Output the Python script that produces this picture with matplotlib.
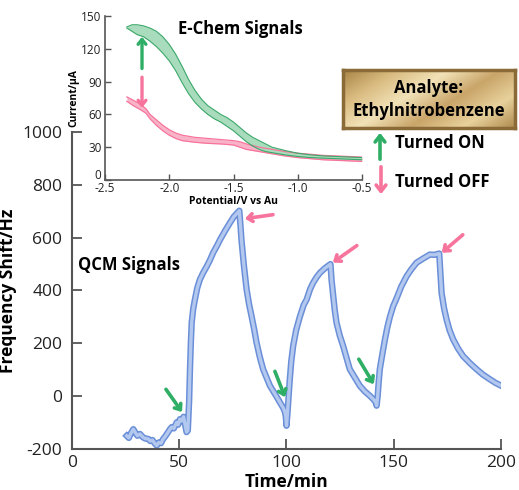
import numpy as np
import matplotlib
matplotlib.use("Agg")
import matplotlib.pyplot as plt
import matplotlib.patheffects as pe
import matplotlib.transforms as mtransforms
from matplotlib.colors import LinearSegmentedColormap
from matplotlib.patches import FancyArrowPatch

plt.rcParams['font.family'] = ['Open Sans', 'DejaVu Sans']

# QCM signal (time in min, frequency shift in Hz)
qcm_t = [25.5, 26.5, 27.5, 28.6, 29.5, 30.5, 31.7, 33.0, 34.0, 35.6, 36.5, 37.5,
         38.5, 39.5, 40.5, 41.5, 42.5, 43.5, 44.5, 45.7, 46.5, 47.5, 48.8, 49.5,
         50.3, 51.1, 52.0, 52.8, 53.4, 54.0,
         54.6, 55.0, 55.4, 55.8, 56.5, 57.3, 58.4, 59.6, 61.0, 62.8, 64.3, 65.8,
         67.5, 69.0, 71.3, 73.6, 75.5, 77.0, 78.0,
         78.6, 79.0, 80.2, 81.4, 82.5, 83.7, 85.0, 86.0, 87.5, 89.1, 90.7, 92.3,
         94.5, 96.9, 98.5, 99.3, 99.7, 100.0,
         100.5, 100.8, 101.5, 102.2, 103.1, 104.5, 106.2, 108.0, 109.4, 111.0,
         112.4, 114.0, 115.6, 118.0, 120.5,
         121.0, 121.8, 122.5, 123.3, 124.8, 126.4, 128.0, 129.5, 131.5, 134.2,
         136.5, 138.9, 140.5, 141.7, 142.0,
         142.5, 143.0, 143.5, 144.7, 145.9, 147.0, 148.2, 149.7, 151.3, 153.5,
         156.0, 158.0, 160.6, 163.5, 166.8, 169.0, 171.2,
         171.7, 172.3, 173.4, 174.6, 176.0, 177.7, 180.0, 182.3, 185.5, 188.6,
         191.5, 194.8, 197.5, 200.2]
qcm_f = [-150, -158, -140, -125, -138, -150, -143, -155, -160, -162, -170, -166,
         -178, -187, -175, -178, -162, -152, -140, -125, -117, -122, -99, -108,
         -87, -94, -78, -110, -136, -130,
         -20, 100, 200, 279, 330, 366, 410, 441, 465, 491, 515, 543,
         568, 592, 625, 656, 680, 693, 702,
         640, 592, 490, 404, 350, 303, 250, 204, 150, 102, 70, 39,
         10, -23, -45, -60, -80, -112,
         -60, -23, 60, 130, 190, 250, 300, 345, 366, 405,
         429, 450, 467, 485, 500,
         440, 378, 325, 279, 230, 190, 145, 102, 75, 39,
         18, 1, -12, -24, -36,
         0, 55, 102, 160, 215, 260, 300, 340, 370, 415,
         454, 478, 505, 520, 536, 535, 540,
         470, 391, 335, 291, 250, 215, 180, 152, 125, 102,
         82, 64, 50, 39]

# E-Chem signals (potential in V vs Au, current in uA)
on_v = [-2.33, -2.29, -2.25, -2.2, -2.15, -2.1, -2.05, -2.0, -1.95, -1.9, -1.85,
        -1.8, -1.75, -1.7, -1.65, -1.6, -1.55, -1.5, -1.45, -1.4, -1.35, -1.3,
        -1.25, -1.2, -1.1, -1.0, -0.9, -0.8, -0.7, -0.6, -0.5]
on_hi = [140, 142, 142, 141, 139, 136, 131, 124, 115, 104, 92, 82, 74, 68, 64,
         60, 57, 53, 48, 43, 39, 36, 33, 30, 27, 24.5, 23, 22, 21.5, 21, 20.5]
on_lo = [139, 136, 133, 131, 127, 122, 116, 109, 100, 89, 79, 71, 65, 60, 56,
         53, 49, 45, 40, 35, 31, 28, 26, 25, 23, 21.5, 20.5, 20, 19.5, 19, 18.5]

off_v = [-2.33, -2.28, -2.22, -2.18, -2.15, -2.1, -2.05, -2.0, -1.95, -1.9, -1.8,
         -1.7, -1.6, -1.5, -1.45, -1.4, -1.3, -1.2, -1.1, -1.0, -0.9, -0.8, -0.7,
         -0.6, -0.5]
off_hi = [76, 73, 69, 65, 60, 55, 50, 46, 43, 41, 39, 38, 37, 36, 35, 33, 30, 28,
          26, 24.5, 23.5, 22.5, 22, 21.5, 21]
off_lo = [72, 68, 64, 61, 56, 50, 45, 41, 38, 36, 34.5, 33.5, 33, 32, 30, 28, 26,
          24, 22, 20.5, 19.5, 18.5, 18, 17.5, 17]

main_xticks = [0, 50, 100, 150, 200]
main_yticks = [-200, 0, 200, 400, 600, 800, 1000]
ins_xticks = [-2.5, -2.0, -1.5, -1.0, -0.5]
ins_yticks = [0, 30, 60, 90, 120, 150]

W, H = 519, 490
green = '#2fae66'
pink = '#f7749c'
axc = '#555555'

fig = plt.figure(figsize=(W / 100, H / 100), dpi=100)

# ---- main QCM axes
ax = fig.add_axes([72 / W, 1 - 449 / H, 429 / W, 317 / H])
ax.patch.set_alpha(0)
ax.plot(qcm_t, qcm_f, color='#b3c8ef', lw=2.4, solid_joinstyle='round',
        path_effects=[pe.Stroke(linewidth=4.6, foreground='#6a8fd8'), pe.Normal()])
ax.set_xlim(0, 200)
ax.set_ylim(-200, 1000)
ax.set_xticks(main_xticks)
ax.set_yticks(main_yticks)
ax.set_yticklabels([str(v) for v in main_yticks])
for s in ['top', 'right']:
    ax.spines[s].set_visible(False)
for s in ['left', 'bottom']:
    ax.spines[s].set_color(axc)
    ax.spines[s].set_linewidth(1.5)
ax.tick_params(direction='in', length=7, width=1.3, color=axc, labelsize=12.5,
               labelcolor='#222222')
ax.tick_params(axis='y', pad=7)
ax.tick_params(axis='x', pad=4)
ax.set_xlabel('Time/min', fontsize=12.5, fontweight='bold', labelpad=2)
ax.set_ylabel('Frequency Shift/Hz', fontsize=12.5, fontweight='bold', labelpad=4)
ax.text(78 / W, 1 - 265 / H, 'QCM Signals', transform=fig.transFigure,
        fontsize=12, fontweight='bold', va='center', ha='left')

arw = dict(arrowstyle='->, head_width=0.28, head_length=0.35', lw=2.6,
           shrinkA=0, shrinkB=0)
for (x0, y0, x1, y1) in [(43.8, 26, 51.3, -60), (94.6, 94, 99.3, -4),
                         (133.7, 140, 140.7, 45)]:
    ax.annotate('', xy=(x1, y1), xytext=(x0, y0),
                arrowprops=dict(arw, color=green))
for (x0, y0, x1, y1) in [(93.7, 687, 80.6, 672), (132.8, 570, 121.6, 506),
                         (182.2, 611, 172.4, 543)]:
    ax.annotate('', xy=(x1, y1), xytext=(x0, y0),
                arrowprops=dict(arw, color=pink))

# ---- inset E-Chem axes
ins = fig.add_axes([105 / W, 1 - 180 / H, 257 / W, 164 / H])
ins.patch.set_alpha(0)
ins.fill_between(off_v, off_lo, off_hi, color='#f9b3c8', lw=0)
ins.plot(off_v, off_hi, color=pink, lw=0.9)
ins.plot(off_v, off_lo, color=pink, lw=0.9)
ins.fill_between(on_v, on_lo, on_hi, color='#a9dcbc', lw=0)
ins.plot(on_v, on_hi, color='#3aa86a', lw=0.8)
ins.plot(on_v, on_lo, color='#3aa86a', lw=0.8)
ins.set_xlim(-2.5, -0.5)
ins.set_ylim(0, 150)
ins.set_xticks(ins_xticks)
ins.set_xticklabels([f'{v:.1f}' for v in ins_xticks])
ins.set_yticks(ins_yticks)
for s in ['top', 'right']:
    ins.spines[s].set_visible(False)
for s in ['left', 'bottom']:
    ins.spines[s].set_color(axc)
    ins.spines[s].set_linewidth(1.2)
ins.tick_params(direction='in', length=4, width=1, color=axc, labelsize=8.5,
                pad=2.5, labelcolor='#222222')
ins.tick_params(axis='x', pad=1.5)
ins.set_xlabel('Potential/V vs Au', fontsize=7.5, fontweight='bold', labelpad=1)
ins.set_ylabel('Current/\u03bcA', fontsize=7.5, fontweight='bold', labelpad=1)
# nudge the "0" label up so it clears "-2.5"
zero_lbl = ins.get_yticklabels()[0]
zero_lbl.set_transform(zero_lbl.get_transform() +
                       mtransforms.ScaledTranslation(0, 4 / 72, fig.dpi_scale_trans))
fig.text(240 / W, 1 - 29 / H, 'E-Chem Signals', fontsize=12, fontweight='bold',
         ha='center', va='center')
ins.annotate('', xy=(-2.212, 131), xytext=(-2.212, 102),
             arrowprops=dict(arw, color=green, lw=2.4))
ins.annotate('', xy=(-2.212, 66), xytext=(-2.212, 94),
             arrowprops=dict(arw, color=pink, lw=2.4))

# ---- gold analyte box
bx = fig.add_axes([343 / W, 1 - 128 / H, 172 / W, 58 / H])
gx, gy = np.meshgrid(np.linspace(0, 1, 200), np.linspace(0, 1, 60))
gold = LinearSegmentedColormap.from_list(
    'gold', ['#a98446', '#d9bb80', '#f2e2b8', '#c9a569', '#e8d19c', '#b08c4f'])
bx.imshow(0.65 * gx + 0.35 * gy, cmap=gold, aspect='auto', extent=(0, 1, 0, 1))
bx.set_xticks([])
bx.set_yticks([])
for s in bx.spines.values():
    s.set_color('#8a6a36')
    s.set_linewidth(2.5)
fig.text(429 / W, 1 - 88 / H, 'Analyte:', fontsize=12, fontweight='bold',
         ha='center', va='center')
fig.text(429 / W, 1 - 111 / H, 'Ethylnitrobenzene', fontsize=12,
         fontweight='bold', ha='center', va='center')

# ---- key arrows
fig.text(395 / W, 1 - 143 / H, 'Turned ON', fontsize=12, fontweight='bold',
         ha='left', va='center')
fig.text(395 / W, 1 - 182 / H, 'Turned OFF', fontsize=12, fontweight='bold',
         ha='left', va='center')
fig.add_artist(FancyArrowPatch(
    (380 / W, 1 - 162 / H), (380 / W, 1 - 130 / H), transform=fig.transFigure,
    arrowstyle='->, head_width=3.5, head_length=4.5', lw=2.6, color=green))
fig.add_artist(FancyArrowPatch(
    (381 / W, 1 - 164 / H), (381 / W, 1 - 197 / H), transform=fig.transFigure,
    arrowstyle='->, head_width=3.5, head_length=4.5', lw=2.6, color=pink))

fig.savefig('out.png', dpi=100)
